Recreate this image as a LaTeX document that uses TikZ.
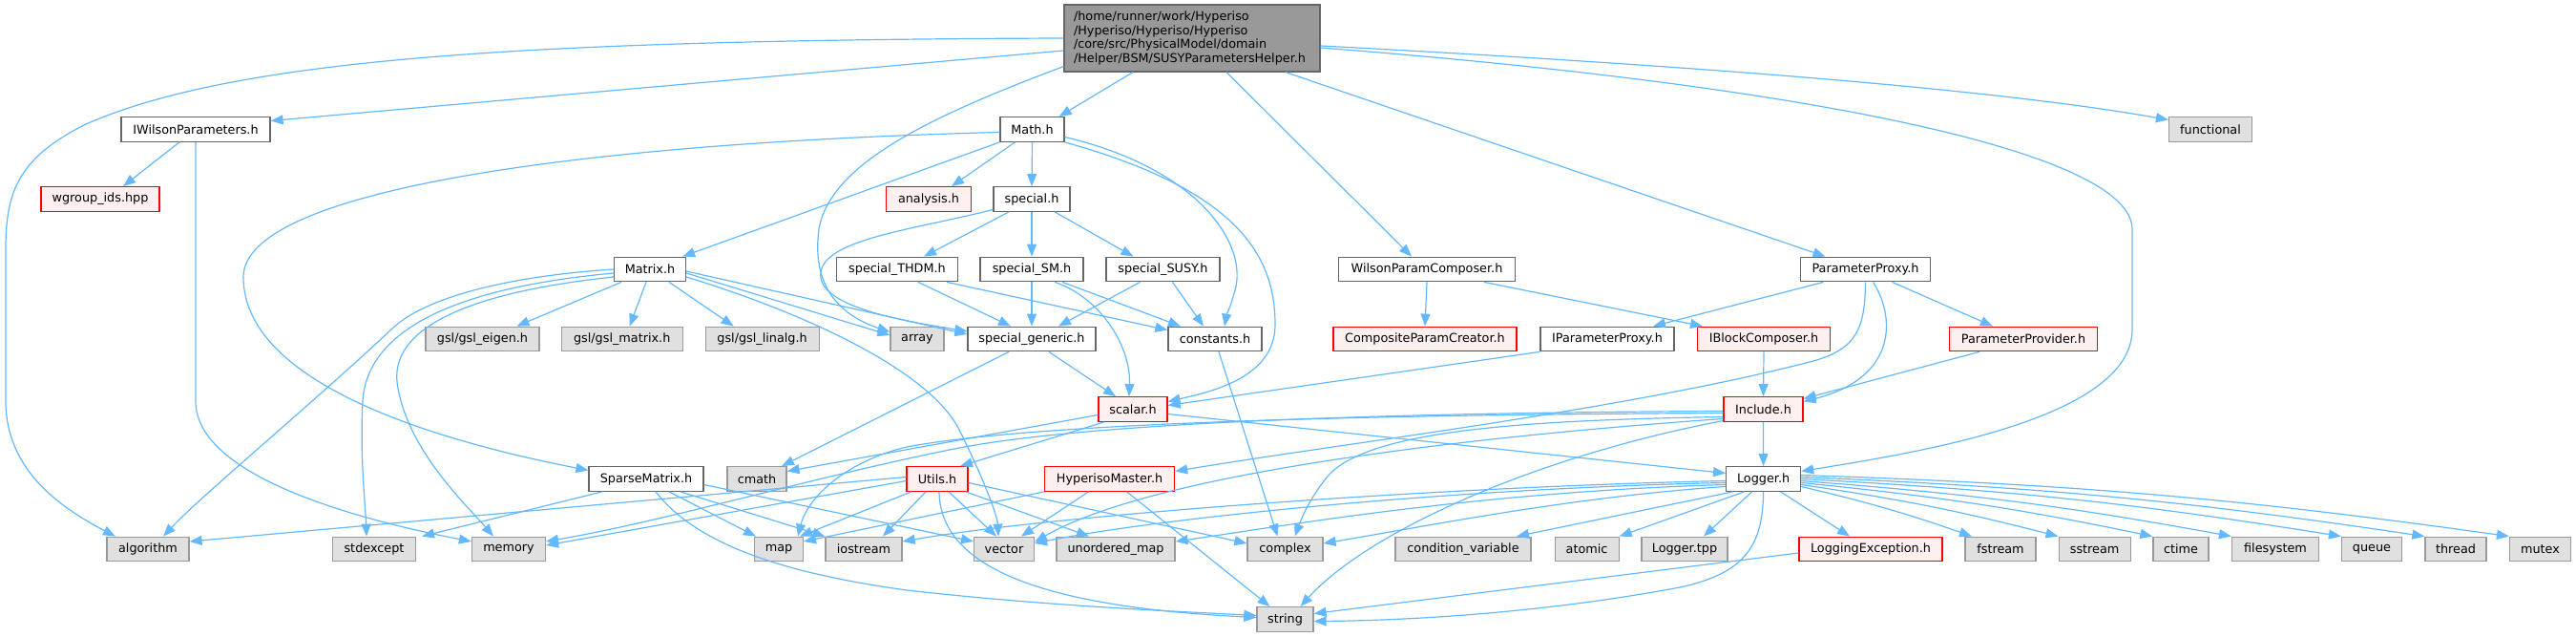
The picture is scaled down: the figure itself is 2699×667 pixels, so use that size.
\documentclass[tikz,border=0pt]{standalone}
\usepackage{fontspec}
\setmainfont{DejaVu Sans}
\usetikzlibrary{arrows.meta}
\definecolor{cB}{HTML}{666666}
\definecolor{cR}{HTML}{FF0000}
\definecolor{cRf}{HTML}{FFF0F0}
\definecolor{cG}{HTML}{999999}
\definecolor{cGf}{HTML}{E0E0E0}
\definecolor{cM}{HTML}{999999}
\definecolor{cE}{HTML}{63B8FF}
\newcommand\nfont{\fontsize{6.4}{7.4}\selectfont}
\tikzset{
 nbase/.style={rectangle, minimum height=12.8pt, inner sep=0pt, line width=0.6pt, font=\nfont, text=black},
 nb/.style={nbase, draw=cB, fill=white},
 nr/.style={nbase, draw=cR, fill=cRf},
 ng/.style={nbase, draw=cG, fill=cGf},
 nm/.style={nbase, draw=cB, fill=cM},
 e/.style={draw=cE, line width=0.6pt, -{Triangle[length=6.5pt,width=5pt]}},
}
\begin{document}
\begin{tikzpicture}[x=0.5pt,y=-0.5pt]
\useasboundingbox (0,0) rectangle (2699,667);
% nodes
\node[nm, minimum height=35pt, text width=124pt, align=left, inner xsep=5pt] (main) at (1249,40) {/home/runner/work/Hyperiso\\/Hyperiso/Hyperiso/Hyperiso\\/core/src/PhysicalModel/domain\\/Helper/BSM/SUSYParametersHelper.h};
\node[nb, minimum width=78pt] (iwp) at (205,135.5) {IWilsonParameters.h};
\node[nb, minimum width=33.5pt] (math) at (1081.5,135.5) {Math.h};
\node[ng, minimum width=43.5pt] (func) at (2316,135.5) {functional};
\node[nr, minimum width=62pt] (wgroup) at (105,208.5) {wgroup\_ids.hpp};
\node[nr, minimum width=44.5pt] (analysis) at (973,208.5) {analysis.h};
\node[nb, minimum width=40pt] (special) at (1081,208.5) {special.h};
\node[nb, minimum width=37.5pt] (matrix) at (681,282) {Matrix.h};
\node[nb, minimum width=63.5pt] (thdm) at (940,282) {special\_THDM.h};
\node[nb, minimum width=54pt] (sm) at (1081,282) {special\_SM.h};
\node[nb, minimum width=59.5pt] (susy) at (1218.5,282) {special\_SUSY.h};
\node[nb, minimum width=92.5pt] (wpc) at (1495,282) {WilsonParamComposer.h};
\node[nb, minimum width=68pt] (pp) at (1954.5,282) {ParameterProxy.h};
\node[ng, minimum width=59.5pt] (eigen) at (505.5,355) {gsl/gsl\_eigen.h};
\node[ng, minimum width=63.5pt] (gmat) at (651.7,355) {gsl/gsl\_matrix.h};
\node[ng, minimum width=59.5pt] (linalg) at (798.6,355) {gsl/gsl\_linalg.h};
\node[ng, minimum width=28pt] (array) at (961,355) {array};
\node[nb, minimum width=67pt] (sgen) at (1081,355) {special\_generic.h};
\node[nb, minimum width=49pt] (cst) at (1273,355) {constants.h};
\node[nr, minimum width=96pt] (cpc) at (1493,355) {CompositeParamCreator.h};
\node[nb, minimum width=70pt] (ipp) at (1684,355) {IParameterProxy.h};
\node[nr, minimum width=69.5pt] (ibc) at (1848,355) {IBlockComposer.h};
\node[nr, minimum width=77.5pt] (ppr) at (2120,355) {ParameterProvider.h};
\node[nr, minimum width=36pt] (scalar) at (1187,428.5) {scalar.h};
\node[nr, minimum width=41.5pt] (incl) at (1847.5,428.5) {Include.h};
\node[nb, minimum width=60pt] (sparse) at (677,501.5) {SparseMatrix.h};
\node[ng, minimum width=31pt] (cmath) at (793,501.5) {cmath};
\node[nr, minimum width=32pt] (utils) at (982,501.5) {Utils.h};
\node[nr, minimum width=68pt] (hm) at (1162.6,501.5) {HyperisoMaster.h};
\node[nb, minimum width=39pt] (logger) at (1847.6,501.5) {Logger.h};
\node[ng, minimum width=43pt] (algo) at (155,575) {algorithm};
\node[ng, minimum width=43.5pt] (stdex) at (392,575) {stdexcept};
\node[ng, minimum width=38.5pt] (memory) at (533,575) {memory};
\node[ng, minimum width=25.5pt] (map) at (816,575) {map};
\node[ng, minimum width=40pt] (iostream) at (905,575) {iostream};
\node[ng, minimum width=31.5pt] (vector) at (1052,575) {vector};
\node[ng, minimum width=62pt] (umap) at (1169,575) {unordered\_map};
\node[ng, minimum width=39.5pt] (complex) at (1346.5,575) {complex};
\node[ng, minimum width=71pt] (condvar) at (1533,575) {condition\_variable};
\node[ng, minimum width=33.5pt] (atomic) at (1662.6,575) {atomic};
\node[ng, minimum width=45pt] (ltpp) at (1765,575) {Logger.tpp};
\node[nr, minimum width=75pt] (lexc) at (1960,575) {LoggingException.h};
\node[ng, minimum width=37pt] (fstream) at (2096,575) {fstream};
\node[ng, minimum width=37.5pt] (sstream) at (2194.6,575) {sstream};
\node[ng, minimum width=29pt] (ctime) at (2285,575) {ctime};
\node[ng, minimum width=45.5pt] (fsys) at (2384,575) {filesystem};
\node[ng, minimum width=31.5pt] (queue) at (2485,575) {queue};
\node[ng, minimum width=32pt] (thread) at (2573,575) {thread};
\node[ng, minimum width=32pt] (mutex) at (2661.5,575) {mutex};
\node[ng, minimum width=29.5pt] (string) at (1346.5,648.5) {string};
% edges from main
\draw[e] (main.west) .. controls (560,42) and (250,60) .. (90,130) .. controls (20,165) and (6,200) .. (6,260) -- (6,420) .. controls (6,490) and (60,530) .. ([xshift=-17pt]algo.north);
\draw[e] ([yshift=-6.5pt]main.west) -- ([yshift=4.5pt]iwp.east);
\draw[e] ([xshift=-31pt]main.south) -- ([xshift=-3pt]math.north east);
\draw[e] ([yshift=3pt]main.south west) .. controls (980,120) and (870,170) .. (858,240) .. controls (850,300) and (880,330) .. ([yshift=-3pt]array.north west);
\draw[e] ([xshift=18pt]main.south) -- ([xshift=-8pt]wpc.north);
\draw[e] ([xshift=49pt]main.south) -- ([xshift=-21pt]pp.north);
\draw[e] ([yshift=-4pt]main.east) .. controls (1800,70) and (2100,95) .. ([yshift=5pt]func.west);
\draw[e] ([yshift=-5pt]main.east) .. controls (1900,90) and (2234,160) .. (2234,240) -- (2234,345) .. controls (2234,440) and (2000,475) .. ([yshift=4pt]logger.east);
% Math
\draw[e] ([xshift=-9pt]math.south) -- ([xshift=12pt]analysis.north);
\draw[e] (math.south) -- (special.north);
\draw[e] (math.south west) -- ([xshift=-2pt]matrix.north east);
\draw[e] ([yshift=-1.5pt]math.west) .. controls (600,150) and (255,200) .. (255,290) .. controls (255,400) and (450,460) .. ([yshift=4.5pt]sparse.west);
\draw[e] ([yshift=-4pt]math.east) .. controls (1250,175) and (1305,250) .. (1295,300) .. controls (1290,320) and (1285,330) .. ([xshift=5pt]cst.north);
\draw[e] (math.south east) .. controls (1300,200) and (1336,270) .. (1336,340) .. controls (1336,395) and (1270,410) .. ([yshift=4pt]scalar.east);
% special
\draw[e] ([xshift=-12pt]special.south) -- ([xshift=14pt]thdm.north);
\draw[e] (special.south) -- (sm.north);
\draw[e] ([xshift=12pt]special.south) -- ([xshift=-15.5pt]susy.north);
\draw[e] ([yshift=-5.5pt]special.west) .. controls (960,240) and (865,250) .. (860,285) .. controls (855,320) and (940,335) .. ([yshift=4pt]sgen.west);
% Matrix
\draw[e] ([xshift=-15pt]matrix.south) -- ([xshift=18pt]eigen.north);
\draw[e] ([xshift=-2pt]matrix.south) -- ([xshift=4pt]gmat.north);
\draw[e] ([xshift=10pt]matrix.south) -- ([xshift=-15pt]linalg.north);
\draw[e] ([yshift=-2pt]matrix.east) -- ([yshift=2pt]array.west);
\draw[e] ([yshift=-1pt]matrix.east) -- ([yshift=2.5pt]sgen.west);
\draw[e] ([yshift=-4pt]matrix.east) .. controls (850,330) and (975,390) .. (1005,450) .. controls (1030,500) and (1045,540) .. ([xshift=-3pt]vector.north);
\draw[e] (matrix.west) .. controls (520,290) and (440,315) .. (410,345) .. controls (330,420) and (210,520) .. ([xshift=8pt]algo.north);
\draw[e] ([yshift=-2pt]matrix.west) .. controls (490,300) and (385,340) .. (380,420) .. controls (377,480) and (383,530) .. ([xshift=-4pt]stdex.north);
\draw[e] ([yshift=-4pt]matrix.west) .. controls (500,305) and (410,340) .. (416,400) .. controls (425,470) and (490,530) .. ([xshift=-8pt]memory.north);
% IWilsonParameters
\draw[e] ([xshift=-8.5pt]iwp.south) -- ([xshift=12pt]wgroup.north);
\draw[e] (iwp.south) -- (205,420) .. controls (205,500) and (380,545) .. ([yshift=4pt]memory.west);
% special_*
\draw[e] ([xshift=11pt]thdm.south) -- ([xshift=-11pt]sgen.north);
\draw[e] ([xshift=26pt]thdm.south) -- ([yshift=-2pt]cst.north west);
\draw[e] (sm.south) -- (sgen.north);
\draw[e] ([xshift=12pt]sm.south) .. controls (1150,310) and (1185,360) .. ([xshift=-2pt]scalar.north);
\draw[e] ([xshift=16pt]sm.south) -- ([xshift=-18pt]cst.north);
\draw[e] ([xshift=-12pt]susy.south) -- ([xshift=14pt]sgen.north);
\draw[e] ([xshift=5pt]susy.south) -- ([xshift=-6pt]cst.north);
% special_generic, constants
\draw[e] ([xshift=9pt]sgen.south) -- ([xshift=-9pt]scalar.north);
\draw[e] ([xshift=-12pt]sgen.south) -- ([xshift=13pt]cmath.north);
\draw[e] ([xshift=2pt]cst.south) -- ([xshift=-4pt]complex.north);
% WilsonParamComposer, ParameterProxy
\draw[e] (wpc.south) -- (cpc.north);
\draw[e] ([xshift=30pt]wpc.south) -- ([xshift=-32pt]ibc.north);
\draw[e] ([xshift=-22pt]pp.south) -- ([xshift=24pt]ipp.north);
\draw[e] (pp.south) .. controls (1954,345) and (1945,365) .. (1900,378) .. controls (1700,430) and (1400,465) .. ([yshift=4pt]hm.east);
\draw[e] ([xshift=4pt]pp.south) .. controls (1985,330) and (1990,395) .. ([yshift=4pt]incl.east);
\draw[e] ([xshift=14pt]pp.south) -- ([xshift=-16pt]ppr.north);
\draw[e] ([xshift=-23pt]ppr.south) -- ([yshift=5.5pt]incl.east);
\draw[e] (ibc.south) -- (incl.north);
\draw[e] (ipp.south west) -- ([yshift=2pt]scalar.east);
% scalar
\draw[e] ([yshift=-3pt]scalar.west) -- ([yshift=4pt]cmath.east);
\draw[e] ([xshift=-15pt]scalar.south) -- ([xshift=12pt]utils.north);
\draw[e] ([yshift=-2.5pt]scalar.east) -- ([yshift=3pt]logger.west);
% Include
\draw[e] (incl.south) -- (logger.north);
\draw[e] ([yshift=-1pt]incl.west) .. controls (1500,432) and (1150,440) .. (1000,470) .. controls (850,500) and (700,545) .. ([yshift=4pt]memory.east);
\draw[e] ([yshift=-2pt]incl.west) .. controls (1500,434) and (1100,440) .. (950,468) .. controls (880,485) and (845,525) .. ([xshift=10pt]map.north);
\draw[e] ([yshift=-4pt]incl.west) .. controls (1600,440) and (1430,450) .. (1390,500) .. controls (1370,525) and (1363,545) .. ([xshift=5pt]complex.north);
\draw[e] ([yshift=-6pt]incl.west) .. controls (1600,480) and (1430,560) .. ([xshift=8pt]string.north);
\draw[e] ([yshift=-5pt]incl.west) .. controls (1500,460) and (1200,500) .. ([yshift=-3pt]vector.north east);
% Logger
\draw[e] ([yshift=-1pt]logger.west) .. controls (1500,510) and (1100,540) .. ([yshift=4pt]iostream.east);
\draw[e] ([yshift=-2pt]logger.west) .. controls (1500,512) and (1200,545) .. ([yshift=3pt]vector.east);
\draw[e] ([yshift=-3pt]logger.west) .. controls (1550,515) and (1350,550) .. ([yshift=4pt]umap.east);
\draw[e] ([yshift=-4pt]logger.west) .. controls (1650,520) and (1500,550) .. ([yshift=3pt]complex.east);
\draw[e] ([xshift=-16pt]logger.south) -- ([xshift=28pt]condvar.north);
\draw[e] ([xshift=-10pt]logger.south) -- (atomic.north east);
\draw[e] ([xshift=-6pt]logger.south) -- ([xshift=10pt]ltpp.north);
\draw[e] (logger.south) .. controls (1847,570) and (1830,600) .. (1760,615) .. controls (1600,645) and (1450,650) .. ([yshift=-1pt]string.east);
\draw[e] ([xshift=9pt]logger.south) -- ([xshift=-11pt]lexc.north);
\draw[e] ([yshift=-4pt]logger.east) to[bend left=3] ([xshift=-15pt]fstream.north);
\draw[e] ([yshift=-3pt]logger.east) to[bend left=3] (sstream.north west);
\draw[e] ([yshift=-2pt]logger.east) to[bend left=3] (ctime.north west);
\draw[e] ([yshift=-1pt]logger.east) to[bend left=3] (fsys.north west);
\draw[e] (logger.east) to[bend left=3] (queue.north west);
\draw[e] ([yshift=1pt]logger.east) to[bend left=3] (thread.north west);
\draw[e] ([yshift=2pt]logger.east) to[bend left=3] (mutex.north west);
% Utils
\draw[e] ([yshift=1pt]utils.west) -- ([yshift=4pt]algo.east);
\draw[e] ([yshift=-1pt]utils.west) -- ([yshift=2pt]memory.east);
\draw[e] ([xshift=-13.5pt]utils.south) -- ([xshift=-2pt]map.north east);
\draw[e] ([xshift=-6pt]utils.south) -- ([xshift=10pt]iostream.north);
\draw[e] ([xshift=6pt]utils.south) -- ([xshift=-4pt]vector.north);
\draw[e] ([xshift=15pt]utils.south) -- ([xshift=-14pt]umap.north);
\draw[e] ([yshift=-2pt]utils.east) -- ([yshift=3pt]complex.west);
\draw[e] ([xshift=1pt]utils.south) .. controls (985,590) and (1080,635) .. ([yshift=1pt]string.west);
% HyperisoMaster
\draw[e] (hm.south west) -- ([yshift=4pt]map.east);
\draw[e] ([xshift=-11pt]hm.south) -- ([xshift=9pt]vector.north);
\draw[e] ([xshift=9pt]hm.south) -- ([xshift=-8pt]string.north);
% SparseMatrix
\draw[e] ([xshift=-23pt]sparse.south) -- ([xshift=25pt]stdex.north);
\draw[e] ([xshift=12pt]sparse.south) -- ([xshift=-12pt]map.north);
\draw[e] ([xshift=18pt]sparse.south) -- (iostream.north west);
\draw[e] ([yshift=-3pt]sparse.east) -- ([yshift=4pt]vector.west);
\draw[e] ([xshift=5pt]sparse.south) .. controls (730,570) and (820,600) .. (950,618) .. controls (1100,635) and (1250,641) .. ([yshift=2pt]string.west);
% LoggingException
\draw[e] ([yshift=-2pt]lexc.west) -- ([yshift=3pt]string.east);
\end{tikzpicture}
\end{document}
